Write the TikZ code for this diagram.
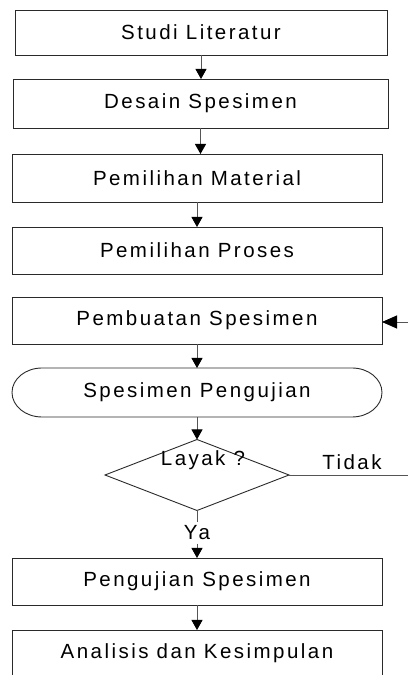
\documentclass[tikz,border=0pt]{standalone}
\usepackage{fontspec}
\setmainfont{Liberation Sans}[LetterSpace=12]
\usetikzlibrary{arrows.meta,shapes.geometric}
\definecolor{lineg}{HTML}{555555}
\definecolor{boxg}{HTML}{2A2A2A}
\begin{document}
\begin{tikzpicture}[x=1pt,y=1pt,
  txt/.style={font=\fontsize{20.5}{24}\selectfont, inner sep=0pt, outer sep=0pt},
  box/.style={txt, draw=boxg, line width=0.9pt, rectangle, minimum height=47pt, minimum width=370pt},
  outline/.style={draw=boxg, line width=0.9pt},
  plain/.style={draw=lineg, line width=0.9pt},
  conn/.style={plain, -{Triangle[width=11pt,length=10pt,black]}},
  connbig/.style={plain, -{Triangle[width=13pt,length=15pt,black]}}
]
\useasboundingbox (0,0) rectangle (408,675);
\node[box, minimum width=372pt, minimum height=45pt] (b1) at (201,642.5) {Studi Literatur};
\node[box, minimum width=375pt, minimum height=49pt] (b2) at (200.5,571.5) {Desain Spesimen};
\node[box, minimum height=48pt] (b3) at (197,497) {Pemilihan Material};
\node[box] (b4) at (197,424.5) {Pemilihan Proses};
\node[box] (b5) at (197,354.5) {Pembuatan Spesimen};
\node[txt, minimum width=370pt, minimum height=49pt] (t6) at (197,282.5) {Spesimen Pengujian};
\draw[outline] ([xshift=30pt]t6.north west) -- ([xshift=-30pt]t6.north east)
  arc[start angle=90,end angle=-90,x radius=30pt,y radius=24.5pt]
  -- ([xshift=30pt]t6.south west)
  arc[start angle=270,end angle=90,x radius=30pt,y radius=24.5pt] -- cycle;
\node[outline, diamond, aspect=2.6, minimum width=184pt, minimum height=71pt, inner sep=0pt, outer sep=0pt] (d) at (197,200) {};
\node[txt, anchor=base] (lay) at (203,209) {Layak ?};
\node[txt, anchor=base] (tidak) at (352,205) {Tidak};
\node[txt, anchor=base, inner ysep=3.5pt] (ya) at (197,135) {Ya};
\node[box] (b7) at (197,93.5) {Pengujian Spesimen};
\node[box] (b8) at (197,21.5) {Analisis dan Kesimpulan};
\coordinate (r1) at (408,200);
\coordinate (r2) at (408,353);
\draw[conn] (b1.south) -- (b1.south |- b2.north);
\draw[conn] (b2.south) -- (b2.south |- b3.north);
\draw[conn] (b3.south) -- (b4.north);
\draw[conn] (b5.south) -- (t6.north);
\draw[conn] (t6.south) -- (d.north);
\draw[plain] (d.south) -- (ya.north);
\draw[conn] (ya.south) -- (b7.north);
\draw[conn] (b7.south) -- (b8.north);
\draw[plain] (d.east) -- (r1);
\draw[connbig] (r2) -- (r2 -| b5.east);
\end{tikzpicture}
\end{document}
